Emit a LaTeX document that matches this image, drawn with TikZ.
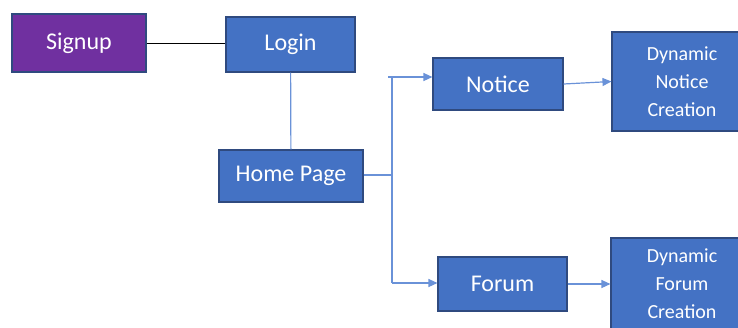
\documentclass[tikz,border=0pt]{standalone}
\usepackage{fontspec}
\setmainfont{Carlito}
\usepackage{tikz}
\usetikzlibrary{arrows.meta}
\usetikzlibrary{positioning}

\definecolor{boxblue}{HTML}{4472C4}
\definecolor{boxedge}{HTML}{2F4A7F}
\definecolor{boxpurple}{HTML}{7030A0}
\definecolor{linkblue}{HTML}{6A92D8}

\begin{document}
\begin{tikzpicture}[x=1pt, y=-1pt]
\tikzset{BoxStyle/.style = {draw=boxedge, line width=1.1pt, fill=boxblue, text=white, inner sep=0pt, font=\fontsize{24}{28}\selectfont}}
\tikzset{SmallBoxStyle/.style = {BoxStyle, align=center, font=\fontsize{20}{28}\selectfont}}
\tikzset{EdgeStyle/.style = {draw=linkblue, line width=1.2pt}}
\tikzset{ArrowStyle/.style = {EdgeStyle, -{Triangle[length=9pt, width=8pt]}}}
	\useasboundingbox (0,0) rectangle (738,327);

	\node[BoxStyle, fill=boxpurple, minimum width=134pt, minimum height=58pt] (signup) at (79,43) {Signup};
	\node[BoxStyle, minimum width=129pt, minimum height=55pt] (login) at (290.5,44.5) {Login};
	\node[BoxStyle, minimum width=144pt, minimum height=52pt] (home) at (291,176) {Home Page};

	\node[BoxStyle, minimum width=130pt, minimum height=52pt] (notice) at (498,84) {Notice};
	\node[BoxStyle, minimum width=129pt, minimum height=54pt] (forum) at (502.5,284) {Forum};

	\node[SmallBoxStyle, minimum width=140pt, minimum height=99pt] (dnotice) at (682,81.5) {Dynamic\\Notice\\Creation};
	\node[SmallBoxStyle, minimum width=142pt, minimum height=92pt] (dforum) at (682,284) {Dynamic\\Forum\\Creation};

	% branch points on the trunk
	\coordinate (tick) at (388,77);
	\coordinate (top) at (392,77);
	\coordinate (mid) at (392,175);
	\coordinate (bot) at (392,283);

	\draw[line width=1pt] (signup.east) -- (signup.east -| login.west);
	\draw[EdgeStyle] (login) -- (home);
	\draw[EdgeStyle] (home.east |- mid) -- (mid);
	\draw[EdgeStyle] (top) -- (bot);
	\draw[ArrowStyle] (tick) -- (notice.west |- top);
	\draw[ArrowStyle] (bot) -- (forum.west |- bot);
	\draw[ArrowStyle] (notice.east) -- (dnotice.west);
	\draw[ArrowStyle] (forum.east) -- (dforum.west);

\end{tikzpicture}
\end{document}
